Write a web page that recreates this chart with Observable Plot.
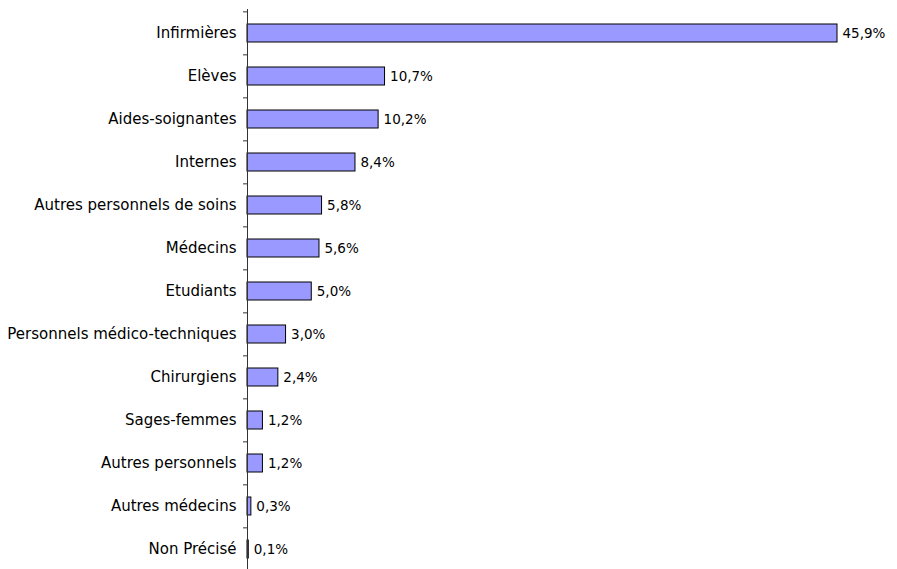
<!DOCTYPE html>
<html>
<head>
<meta charset="utf-8">
<script src="https://cdn.jsdelivr.net/npm/d3@7"></script>
<script src="https://cdn.jsdelivr.net/npm/@observablehq/plot@0.6"></script>
<style>
  html, body { margin: 0; padding: 0; background: #fff; }
  #chart svg { display: block; }
</style>
</head>
<body>
<div id="chart"></div>
<script>
const categories = [
  "Infirmières", "Elèves", "Aides-soignantes", "Internes",
  "Autres personnels de soins", "Médecins", "Etudiants",
  "Personnels médico-techniques", "Chirurgiens", "Sages-femmes",
  "Autres personnels", "Autres médecins", "Non Précisé"
];
const values = [45.9, 10.7, 10.2, 8.4, 5.8, 5.6, 5.0, 3.0, 2.4, 1.2, 1.2, 0.3, 0.1];

const data = categories.map((c, i) => ({category: c, value: values[i]}));
const fmt = v => v.toFixed(1).replace(".", ",") + "%";

const yRange = [9, 572];
const step = (yRange[1] - yRange[0]) / categories.length;
const pInner = 0.584;

const chart = Plot.plot({
  width: 897,
  height: 569,
  marginTop: 9,
  marginBottom: 0,
  marginLeft: 247,
  marginRight: 0,
  style: {fontFamily: "DejaVu Sans, sans-serif", fontSize: "15px", color: "#000", background: "#fff"},
  x: {domain: [0, 45.9], range: [247, 837], axis: null},
  y: {domain: categories, range: yRange, paddingInner: pInner, paddingOuter: pInner / 2, label: null},
  marks: [
    Plot.barX(data, {y: "category", x: "value", fill: "#9999ff", stroke: "#000", strokeWidth: 1}),
    Plot.text(data, {y: "category", x: "value", text: d => fmt(d.value), textAnchor: "start", dx: 5, fill: "#000", fontSize: 13.5}),
    Plot.axisY({tickSize: 0, tickPadding: 11, fontSize: 15, fill: "#000"}),
    Plot.axisY({tickSize: 4, text: null, dy: -step / 2, stroke: "#333"}),
    Plot.ruleX([0], {stroke: "#333"})
  ]
});
document.getElementById("chart").appendChild(chart);
</script>
</body>
</html>
